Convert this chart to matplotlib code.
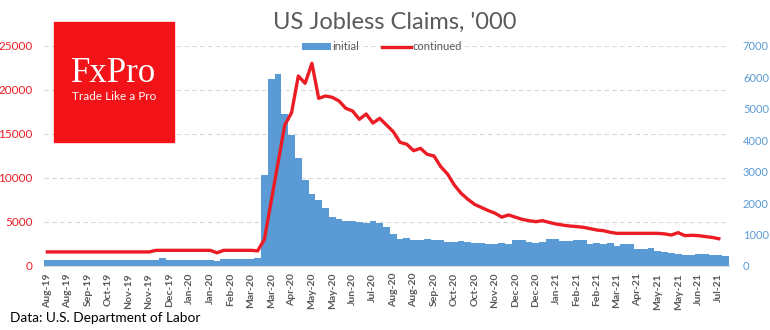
import numpy as np
import pandas as pd
import matplotlib
matplotlib.use('Agg')
import matplotlib.pyplot as plt
from matplotlib.patches import Rectangle

plt.rcParams['font.family'] = ['Lato', 'DejaVu Sans']

# weekly data, '000, week ending Saturday
weeks = pd.date_range('2019-08-10', periods=101, freq='7D')

initial = [
    200, 200, 200, 200, 200, 200, 200, 200, 200, 200,
    200, 200, 200, 200, 200, 200, 200, 250, 205, 205,
    205, 205, 205, 205, 205, 165, 210, 210, 210, 210,
    210, 250, 2900, 5940, 6110, 4840, 4170, 3430, 2740, 2290,
    2100, 1835, 1550, 1495, 1430, 1430, 1400, 1370, 1440, 1360,
    1240, 1020, 860, 890, 830, 830, 860, 830, 830, 765,
    765, 795, 765, 730, 730, 700, 700, 740, 700, 830,
    830, 765, 730, 765, 860, 860, 795, 795, 830, 830,
    700, 740, 700, 740, 640, 700, 700, 540, 540, 575,
    480, 445, 425, 385, 350, 350, 385, 385, 350, 350,
    310,
]

continued = [
    1600, 1600, 1600, 1600, 1600, 1600, 1600, 1600, 1600, 1600,
    1600, 1600, 1600, 1600, 1600, 1600, 1780, 1780, 1780, 1780,
    1780, 1780, 1780, 1780, 1780, 1500, 1780, 1780, 1780, 1780,
    1780, 1720, 3030, 7390, 11700, 16020, 17420, 21590, 20760, 23030,
    19050, 19320, 19170, 18750, 17920, 17610, 16670, 17270, 16250, 16780,
    16020, 15260, 14050, 13830, 13100, 13370, 12690, 12500, 11290, 10450,
    9200, 8260, 7580, 7000, 6650, 6300, 6000, 5550, 5800, 5550,
    5300, 5150, 5040, 5150, 4950, 4770, 4650, 4545, 4480, 4400,
    4250, 4090, 4010, 3830, 3710, 3710, 3710, 3710, 3710, 3710,
    3710, 3650, 3520, 3790, 3450, 3490, 3450, 3350, 3250, 3100,
    np.nan,
]

left_ticks = [0, 5000, 10000, 15000, 20000, 25000]
right_ticks = [0, 1000, 2000, 3000, 4000, 5000, 6000, 7000]

blue = '#5B9BD5'
red = '#EC1C24'
grey = '#595959'

x = np.arange(len(weeks))

fig = plt.figure(figsize=(7.7, 3.3), dpi=100)
ax = fig.add_axes([44 / 770, 1 - 266 / 330, 685 / 770, 220 / 330])
axr = ax.twinx()
ax.set_zorder(axr.get_zorder() + 1)
ax.patch.set_visible(False)

# bars: initial claims on right axis
axr.bar(x, initial, width=1.0, color=blue, zorder=2, label='initial')
for t in left_ticks[1:]:
    axr.axhline(t / left_ticks[-1] * right_ticks[-1], color='#D9D9D9',
                lw=0.8, ls=(0, (4, 3)), zorder=1)
axr.set_ylim(0, right_ticks[-1])
axr.set_yticks(right_ticks)
axr.tick_params(axis='y', length=0, pad=10, labelsize=8, labelcolor=blue)

# line: continued claims on left axis
ax.plot(x, continued, color=red, lw=2.4, solid_joinstyle='round', label='continued')
ax.set_ylim(0, left_ticks[-1])
ax.set_yticks(left_ticks)
ax.tick_params(axis='y', length=0, pad=8, labelsize=8.5, labelcolor=red)

ax.set_xlim(-0.5, len(weeks) - 0.5)
ax.set_xticks(x[::3])
ax.set_xticklabels([d.strftime('%b-%y') for d in weeks[::3]], rotation=90,
                   fontsize=7.5, fontweight='bold', color=grey)
ax.tick_params(axis='x', length=0, pad=5)

for a in (ax, axr):
    for s in a.spines.values():
        s.set_visible(False)
ax.spines['bottom'].set_visible(True)
ax.spines['bottom'].set_color('#D9D9D9')

fig.text(395 / 770, 1 - 22 / 330, "US Jobless Claims, '000", ha='center', va='center',
         fontsize=17, color=grey)

handles = axr.get_legend_handles_labels()[0] + ax.get_legend_handles_labels()[0]
fig.legend(handles, ['initial', 'continued'], loc='center', ncol=2,
           bbox_to_anchor=(382 / 770, 1 - 47 / 330), frameon=False, fontsize=8,
           handlelength=2.6, handleheight=0.6, handletextpad=0.2, columnspacing=2.0,
           labelcolor=grey)

# FxPro logo
fig.patches.append(Rectangle((54 / 770, 1 - 142 / 330), 120 / 770, 120 / 330,
                             transform=fig.transFigure, color='#F21318', zorder=5))
fig.text(114 / 770, 1 - 73 / 330, 'FxPro', ha='center', va='center', color='white',
         fontsize=25, family=['Liberation Serif', 'DejaVu Serif'], zorder=6)
fig.text(114 / 770, 1 - 97 / 330, 'Trade Like a Pro', ha='center', va='center',
         color='white', fontsize=8.5, zorder=6)

fig.text(10 / 770, 1 - 318 / 330, 'Data: U.S. Department of Labor', ha='left',
         va='center', fontsize=9.8, color='black')

fig.savefig('out.png', dpi=100)
